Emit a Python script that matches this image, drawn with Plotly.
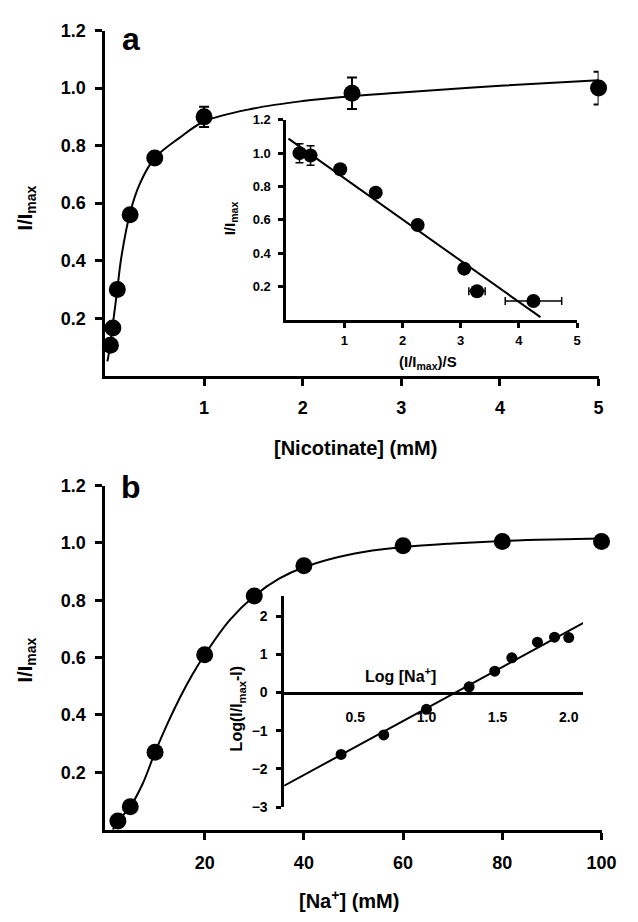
import plotly.graph_objects as go

W, H = 638, 922
FONT = "Liberation Sans, Arial, sans-serif"

# ---------------- data ----------------
# Panel a: nicotinate dependence
nic_conc = [0.05, 0.075, 0.12, 0.25, 0.5, 1.0, 2.5, 5.0]
nic_resp = [0.106, 0.166, 0.30, 0.56, 0.757, 0.90, 0.982, 1.0]
nic_err = [0, 0, 0, 0, 0, 0.035, 0.055, 0.057]
nic_fit_x = [0.02, 0.04, 0.07, 0.12, 0.16, 0.25, 0.35, 0.5, 0.75, 1.0, 1.5, 2.0, 2.5, 3.0, 4.0, 5.0]
nic_fit_y = [0.05, 0.09, 0.166, 0.30, 0.41, 0.567, 0.669, 0.757, 0.827, 0.884, 0.929, 0.955, 0.972, 0.985, 1.008, 1.027]

# Panel a inset: Eadie-Hofstee
eh_x = [0.23, 0.42, 0.93, 1.54, 2.26, 3.06, 3.28, 4.25]
eh_y = [1.0, 0.986, 0.903, 0.763, 0.569, 0.307, 0.171, 0.113]
eh_err_y = [0.057, 0.058, 0, 0, 0, 0, 0, 0]
eh_err_x = [0, 0, 0, 0, 0, 0, 0.14, 0.485]
eh_line_x = [0.04, 4.37]
eh_line_y = [1.087, 0.016]

# Panel b: Na+ dependence
na_conc = [2.5, 5, 10, 20, 30, 40, 60, 80, 100]
na_resp = [0.03, 0.08, 0.27, 0.61, 0.815, 0.92, 0.99, 1.005, 1.005]
na_fit_x = [1.5, 2.5, 5, 7.5, 10, 12.5, 15, 17.5, 20, 25, 30, 35, 40, 50, 60, 70, 80, 90, 100]
na_fit_y = [0.0, 0.03, 0.08, 0.16, 0.27, 0.37, 0.46, 0.54, 0.61, 0.73, 0.815, 0.875, 0.915, 0.962, 0.985, 0.998, 1.007, 1.012, 1.015]

# Panel b inset: Hill plot
hill_x = [0.40, 0.70, 1.00, 1.30, 1.48, 1.60, 1.78, 1.90, 2.00]
hill_y = [-1.62, -1.11, -0.44, 0.15, 0.56, 0.91, 1.32, 1.45, 1.44]
hill_line_x = [0.0, 2.11]
hill_line_y = [-2.44, 1.84]

main_yticks = [0.2, 0.4, 0.6, 0.8, 1.0, 1.2]
a_xticks = [1, 2, 3, 4, 5]
b_xticks = [20, 40, 60, 80, 100]
ins_a_xticks = [1, 2, 3, 4, 5]
ins_b_xticks = [0.5, 1.0, 1.5, 2.0]
ins_b_yticks = [-3, -2, -1, 0, 1, 2]


def xd(a, b):
    return [a / W, b / W]


def yd(top, bottom):
    return [1 - bottom / H, 1 - top / H]


fig = go.Figure()

blk = "black"

# Panel a main
fig.add_trace(go.Scatter(x=nic_fit_x, y=nic_fit_y, mode="lines", line=dict(color=blk, width=2, shape="spline"),
                         xaxis="x", yaxis="y", showlegend=False))
fig.add_trace(go.Scatter(x=nic_conc, y=nic_resp, mode="markers", marker=dict(color=blk, size=17),
                         error_y=dict(type="data", array=nic_err, color=blk, thickness=2, width=5),
                         cliponaxis=False, xaxis="x", yaxis="y", showlegend=False))
# Panel a inset
fig.add_trace(go.Scatter(x=eh_line_x, y=eh_line_y, mode="lines", line=dict(color=blk, width=2),
                         xaxis="x2", yaxis="y2", showlegend=False))
fig.add_trace(go.Scatter(x=eh_x, y=eh_y, mode="markers", marker=dict(color=blk, size=14),
                         error_y=dict(type="data", array=eh_err_y, color=blk, thickness=1.5, width=4),
                         error_x=dict(type="data", array=eh_err_x, color=blk, thickness=1.5, width=4),
                         cliponaxis=False, xaxis="x2", yaxis="y2", showlegend=False))
# Panel b main
fig.add_trace(go.Scatter(x=na_fit_x, y=na_fit_y, mode="lines", line=dict(color=blk, width=2, shape="spline"),
                         xaxis="x3", yaxis="y3", showlegend=False))
fig.add_trace(go.Scatter(x=na_conc, y=na_resp, mode="markers", marker=dict(color=blk, size=17),
                         cliponaxis=False, xaxis="x3", yaxis="y3", showlegend=False))
# Panel b inset
fig.add_trace(go.Scatter(x=hill_line_x, y=hill_line_y, mode="lines", line=dict(color=blk, width=2),
                         xaxis="x4", yaxis="y4", showlegend=False))
fig.add_trace(go.Scatter(x=hill_x, y=hill_y, mode="markers", marker=dict(color=blk, size=11),
                         cliponaxis=False, xaxis="x4", yaxis="y4", showlegend=False))

tick_main = dict(family=FONT, size=18, color=blk, weight="bold")
tick_ins = dict(family=FONT, size=13, color=blk, weight="bold")
tick_insb = dict(family=FONT, size=14, color=blk, weight="bold")

common = dict(showgrid=False, zeroline=False, showline=True, linecolor=blk, ticks="outside",
              tickcolor=blk)

fig.update_layout(
    width=W, height=H, margin=dict(l=0, r=0, t=0, b=0),
    paper_bgcolor="white", plot_bgcolor="rgba(0,0,0,0)",
    xaxis=dict(domain=xd(108, 613), range=[0, 5], tickvals=a_xticks, anchor="y",
               linewidth=3, ticklen=7, tickwidth=3, tickfont=tick_main, ticklabelstandoff=7, **common),
    yaxis=dict(domain=yd(21, 373), range=[0, 1.2], tickvals=main_yticks, tickformat=".1f", anchor="x",
               linewidth=3, ticklen=7, tickwidth=3, tickfont=tick_main, ticklabelstandoff=6, **common),
    xaxis2=dict(domain=xd(293, 591), range=[0, 5], tickvals=ins_a_xticks, anchor="y2",
                linewidth=2.5, ticklen=5, tickwidth=2.5, tickfont=tick_ins, ticklabelstandoff=2, **common),
    yaxis2=dict(domain=yd(112, 316), range=[0, 1.2], tickvals=main_yticks, tickformat=".1f", anchor="x2",
                linewidth=2.5, ticklen=5, tickwidth=2.5, tickfont=tick_ins, ticklabelstandoff=5, **common),
    xaxis3=dict(domain=xd(108, 616), range=[0, 100], tickvals=b_xticks, anchor="y3",
                linewidth=3, ticklen=7, tickwidth=3, tickfont=tick_main, ticklabelstandoff=8, **common),
    yaxis3=dict(domain=yd(485, 836), range=[0, 1.2], tickvals=main_yticks, tickformat=".1f", anchor="x3",
                linewidth=3, ticklen=7, tickwidth=3, tickfont=tick_main, ticklabelstandoff=6, **common),
    xaxis4=dict(domain=xd(291, 597), range=[0, 2.1], tickvals=ins_b_xticks, tickformat=".1f",
                anchor="free", position=1 - 697 / H,
                linewidth=2.5, ticklen=0, tickwidth=0, tickfont=tick_insb, ticklabelstandoff=10,
                showgrid=False, zeroline=False, showline=True, linecolor=blk, ticks=""),
    yaxis4=dict(domain=yd(598, 813), range=[-3, 2.52], tickvals=ins_b_yticks, anchor="x4",
                linewidth=2.5, ticklen=5, tickwidth=2.5, tickfont=tick_insb, ticklabelstandoff=6, **common),
)

ann_font = lambda s: dict(family=FONT, size=s, color=blk, weight="bold")


def px_ann(text, x, y, size, angle=0):
    fig.add_annotation(text=text, x=x / W, y=1 - y / H, xref="paper", yref="paper",
                       showarrow=False, font=ann_font(size), textangle=angle,
                       xanchor="center", yanchor="middle")


px_ann("a", 134, 30, 32)
px_ann("b", 134, 487, 32)
px_ann("[Nicotinate] (mM)", 364, 447, 20)
px_ann("[Na<sup>+</sup>] (mM)", 357, 907, 20)
px_ann("I/I<sub>max</sub>", 27, 202, 20, -90)
px_ann("I/I<sub>max</sub>", 27, 663, 20, -90)
px_ann("I/I<sub>max</sub>", 236, 212, 15, -90)
px_ann("(I/I<sub>max</sub>)/S", 438, 360, 15)
px_ann("Log [Na<sup>+</sup>]", 410, 678, 16)
px_ann("Log(I/I<sub>max</sub>-I)", 243, 712, 16, -90)

fig.write_html("out.html")
